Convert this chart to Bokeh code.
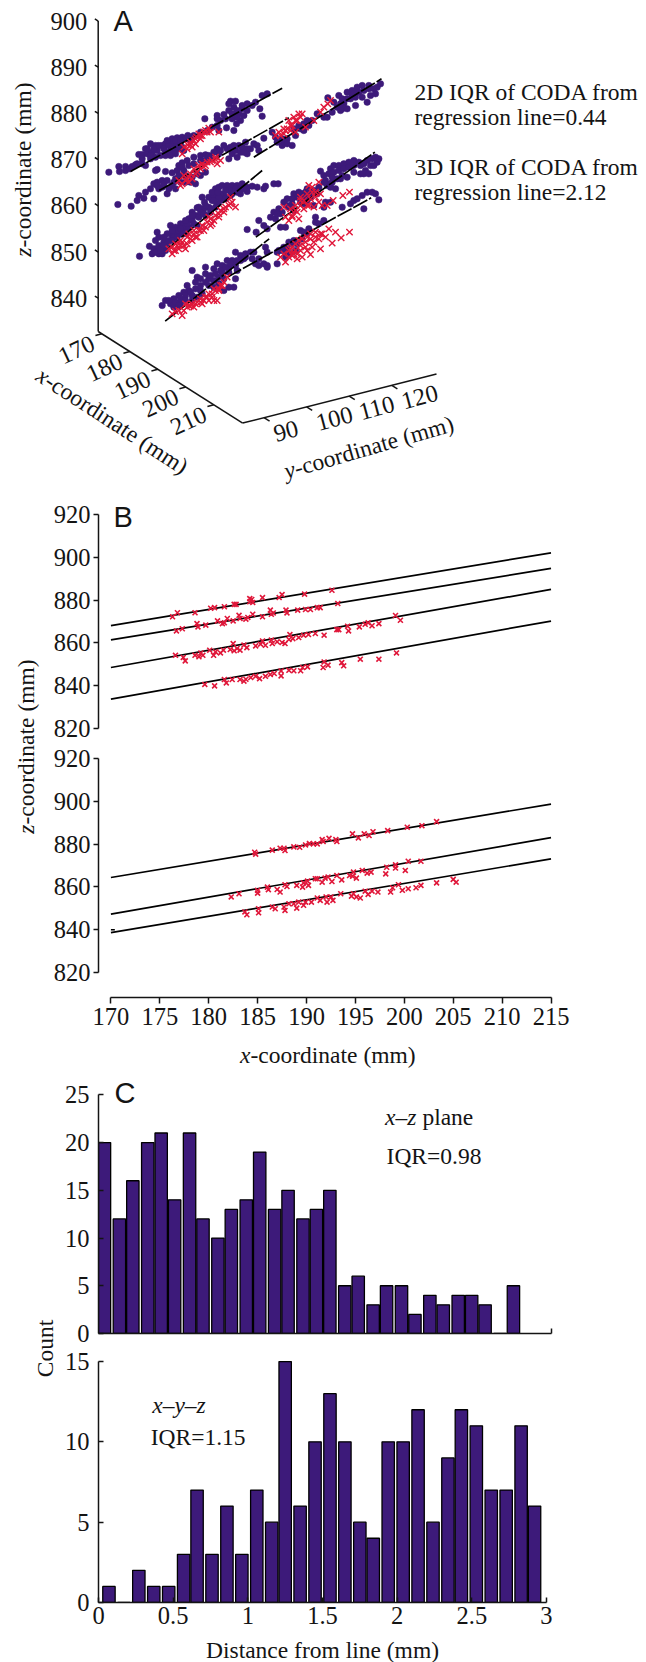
from bokeh.plotting import figure
from bokeh.layouts import column, row
from bokeh.models import Range1d
from bokeh.core.properties import value
from bokeh.embed import file_html
from bokeh.resources import INLINE

# Panel A: readings on the projected view plane of the 3-D box (1 unit = 1/3 of a pixel)
blue_1 = [(325,685),(355,702),(357,687),(375,702),(375,690),(395,702),(405,707),(388,695),(415,738),(425,738),(435,755),(450,770),(465,765),(440,740),(455,745),(470,750),(485,765),(495,770),(515,785),(530,788),(545,790),(515,770),(530,770),(540,775),(480,735),(495,745),(510,750),(465,730),(450,725),(435,705),(425,710),(410,710),(555,785),(562,795),(525,755),(545,760),(470,693),(613,845),(650,855),(650,845),(670,858),(685,870),(700,880),(690,898),(705,898),(685,890),(715,860),(740,890),(740,870),(720,840),(730,855),(778,875),(785,853),(700,810),(678,818),(785,915),(800,920),(765,895),(755,885),(708,830),(695,845),(650,825),(635,820),(620,810),(655,810),(600,805),(580,795),(570,780),(550,750),(440,755),(460,755),(475,765),(490,755),(505,765),(525,780),(500,780),(540,780),(450,735),(425,725),(495,735),(510,735),(525,740),(535,755),(660,840),(675,845),(695,860),(710,870),(725,875),(710,850),(725,885)]
blue_2 = [(352,588),(392,583),(415,615),(410,600),(435,625),(430,607),(460,605),(450,635),(470,655),(460,650),(485,660),(495,687),(515,683),(500,660),(475,635),(500,620),(485,640),(515,645),(525,635),(535,705),(545,713),(530,690),(560,720),(580,730),(600,735),(615,737),(625,735),(540,655),(555,675),(570,655),(585,650),(600,675),(615,685),(630,730),(650,755),(655,740),(670,765),(680,755),(695,740),(710,730),(685,725),(705,750),(725,760),(740,740),(735,775),(760,770),(770,765),(750,755),(790,787),(775,750),(720,745),(590,680),(525,665),(465,690),(470,645),(490,650),(505,635),(520,655),(535,675),(550,690),(565,705),(580,710),(600,720),(615,720),(640,745),(660,750),(690,760),(715,765),(740,755),(700,765),(730,745),(545,700),(555,655),(575,670)]
blue_3 = [(815,805),(845,785),(830,775),(845,765),(875,765),(860,785),(885,795),(880,815),(895,825),(910,830),(920,840),(935,840),(925,825),(910,810),(950,860),(970,850),(982,908),(980,850),(995,865),(1010,880),(1025,875),(1040,875),(1020,870),(1015,915),(1040,925),(1055,930),(1070,940),(1085,945),(1105,945),(1130,940),(1140,950),(1065,910),(1050,905),(1030,890),(1065,885),(1085,910),(1100,895),(1110,915),(1125,920),(1075,925),(1090,930),(1000,895),(1055,915),(1070,925),(1040,905),(1020,890),(1105,935),(1120,935),(1025,905),(1060,920),(910,825),(900,815),(850,775),(825,790),(860,770)]
blue_4 = [(417,433),(447,463),(455,440),(470,505),(465,480),(460,455),(475,460),(475,440),(490,475),(500,470),(490,455),(510,525),(525,520),(540,530),(550,530),(515,495),(530,505),(550,515),(565,545),(575,540),(590,578),(605,610),(612,595),(625,610),(635,600),(610,575),(625,580),(640,615),(645,635),(655,640),(665,645),(680,645),(695,645),(710,645),(725,650),(740,640),(755,643),(770,640),(790,635),(795,643),(740,513),(630,565),(650,590),(670,615),(690,630),(710,625),(660,620),(720,620),(585,555),(600,565),(540,500),(555,505),(500,500),(475,490),(485,440),(495,450),(575,565),(740,627),(615,555),(590,525),(820,650),(833,650),(475,465),(490,465),(505,480),(520,490),(535,510),(550,500),(565,520),(580,530),(595,550),(610,560),(630,575),(645,580),(660,600),(675,605),(690,615),(705,635),(720,635),(465,445),(480,450),(515,510),(540,515),(560,530),(575,555),(595,580),(615,585),(640,600),(655,610),(675,630),(695,620),(730,635),(490,490),(515,480),(530,490),(555,540),(635,625),(652,625)]
blue_5 = [(960,688),(970,675),(975,660),(990,695),(1000,705),(1015,705),(1030,710),(1045,715),(1060,720),(1080,705),(1100,720),(1115,725),(1130,715),(1135,725),(1110,705),(1095,690),(1080,680),(1060,685),(1040,670),(1020,665),(995,655),(980,645),(990,640),(1005,635),(920,635),(880,620),(860,605),(850,595),(865,580),(875,590),(890,610),(905,620),(910,590),(915,625),(930,610),(835,575),(820,565),(810,550),(825,545),(840,560),(940,585),(950,620),(1090,680),(1105,680),(775,540),(790,525),(800,515),(767,505),(840,520),(855,520),(945,550),(945,535),(985,680),(1000,685),(1015,690),(1030,695),(1045,700),(1010,665),(1025,675),(995,670),(1060,705),(1075,715),(1090,710),(1120,705),(1125,730),(860,585),(875,605),(895,625),(910,610),(925,620),(940,630),(955,640),(845,565),(830,560),(880,570),(900,595),(920,600),(970,655),(990,650)]
blue_6 = [(485,285),(495,300),(510,290),(520,305),(535,315),(550,325),(565,330),(575,390),(585,355),(590,370),(600,365),(615,400),(615,380),(625,365),(640,395),(650,410),(665,405),(680,420),(695,420),(705,445),(720,435),(735,440),(750,445),(625,345),(640,360),(655,370),(665,385),(685,400),(705,365),(700,340),(670,330),(685,340),(575,315),(540,290),(520,280),(560,345),(600,330),(710,420),(730,425),(710,390),(755,425),(765,410),(775,405),(800,400),(795,460),(800,445),(830,410),(835,450),(505,300),(525,295),(540,305),(555,315),(570,325),(585,335),(600,345),(615,355),(630,375),(645,380),(660,390),(675,400),(690,410),(705,405),(720,420),(735,430),(590,310),(605,320),(555,300),(575,300),(535,285),(640,340),(655,350),(670,365),(685,385)]
blue_7 = [(760,445),(775,425),(790,410),(800,405),(850,460),(865,475),(880,480),(900,510),(910,505),(885,450),(860,440),(855,430),(925,515),(975,595),(990,595),(1025,580),(1050,590),(1060,600),(1070,605),(1085,615),(1100,625),(1115,625),(1125,620),(1135,602),(1090,575),(970,580),(970,540),(955,530),(860,455),(875,470),(890,470),(905,485),(920,500),(870,440),(845,450),(830,445)]

red_1 = [(550,760),(562,767),(570,775),(580,780),(588,790),(595,800),(605,795),(615,810),(625,817),(630,805),(655,805),(600,785),(575,760),(545,740),(585,770),(610,805),(570,767),(585,785),(600,795),(620,805),(560,755)]
red_2 = [(535,660),(545,650),(560,665),(550,675),(570,680),(580,695),(595,705),(605,710),(620,715),(635,720),(650,710),(660,720),(590,685),(575,665),(645,730),(610,700),(565,655),(540,645),(555,660),(565,670),(585,680),(600,695),(615,705),(630,715),(645,723)]
red_3 = [(825,795),(835,805),(850,800),(860,815),(865,840),(875,825),(880,850),(890,840),(895,860),(905,860),(885,805),(915,820),(960,865),(970,880),(982,890),(990,900),(870,810),(850,815),(940,840),(855,810),(870,825),(885,840),(900,850),(840,795)]
red_4 = [(505,455),(515,440),(525,470),(540,480),(550,465),(560,490),(575,480),(580,500),(595,510),(605,525),(620,535),(630,545),(645,555),(660,570),(675,580),(690,590),(705,580),(690,610),(555,455),(535,455),(590,490),(610,510),(635,530),(655,550),(670,565),(520,450),(515,460),(530,465),(545,475),(560,470),(570,485),(585,490),(600,510),(615,520),(630,525),(640,540),(655,560),(670,575),(685,585),(695,595),(565,500),(540,465),(525,450),(580,510),(625,550)]
red_5 = [(850,580),(855,550),(865,540),(875,555),(885,570),(895,545),(900,585),(925,645),(955,655),(935,625),(900,610),(910,600),(930,605),(945,610),(955,595),(940,580),(965,585),(980,585),(998,600),(1027,615),(1047,625),(890,565),(870,575),(920,585),(960,620),(885,585),(900,600),(920,620),(935,640),(945,625),(910,575),(925,585),(875,550)]
red_6 = [(515,260),(525,267),(545,255),(550,270),(565,285),(575,290),(590,295),(605,290),(615,310),(625,320),(640,300),(650,300),(660,345),(670,355),(635,320),(600,305),(580,280),(625,300),(680,370),(640,335),(655,330),(535,270),(560,280),(585,290),(600,295),(610,300),(620,310),(635,310),(645,330),(655,335),(665,345),(555,290),(570,283)]
red_7 = [(850,440),(865,450),(875,460),(885,470),(895,480),(905,485),(920,490),(930,500),(945,505),(965,500),(985,515),(1005,505),(1022,488),(1047,505),(995,472),(960,455),(930,438),(890,425),(880,440),(900,450),(915,460),(940,475),(955,485),(975,490),(855,415),(840,430),(905,430),(870,455),(885,450),(900,465),(915,475),(930,485),(945,490),(960,500),(875,435),(890,440),(865,430),(920,450),(935,460)]

fit_lines_a = [((390,687),(845,937)),((476,630),(865,848)),((760,730),(1143,965)),((501,455),(785,690)),((766,490),(1123,745)),((494,238),(806,485)),((680,370),(1112,608))]

x_ticks_a = [170,180,190,200,210]
y_ticks_a = [90,100,110,120]
z_ticks_a = [840,850,860,870,880,890,900]

# Panel B: (x mm, z mm) readings
b1_row1 = [(176.3,872.2),(176.8,874.1),(178.6,874.1),(180.2,876.2),(180.6,876.5),(181.6,876.9),(182.6,878),(182.8,878),(184.2,879.2),(184.4,880.3),(184.2,880.7),(184.5,878.9),(185.5,881.2),(187.2,881.2),(187.5,882.6),(189.8,882.8),(192.6,884.6)]
b1_row2 = [(176.7,865.6),(177.3,866.6),(178.8,869),(178.9,867.5),(179.7,868.3),(180.9,870.3),(181.4,869),(181.6,869.4),(181.9,871.4),(182.5,870.3),(183.1,872.9),(183.2,871.4),(183.8,871.1),(184,871.9),(184.5,873.4),(185.5,872.2),(186.3,875.3),(186.4,873.4),(186.6,874),(187.9,875.3),(188,874),(189.1,875.3),(189.9,875.6),(190.4,875.6),(191.1,876.5),(191.4,876.5),(193.2,878.4)]
b1_row3 = [(176.6,854.2),(177.4,853.2),(177.6,851.6),(178.6,854.2),(179,853.5),(179.2,855.3),(179.4,854.2),(180.1,856.6),(180.5,854.2),(180.7,855.8),(181.2,855.3),(181.5,856.6),(182.2,856.9),(182.5,859.7),(182.6,856.3),(182.9,857.4),(183.2,856.6),(183.6,859),(183.9,857.8),(184.8,858.6),(185.3,859.4),(185.5,860.9),(185.8,858.9),(186.4,861.3),(186.5,859.7),(187,860.5),(187.5,860.2),(187.8,859.7),(188.2,861.6),(188.3,863.9),(188.6,862),(189.2,862.5),(189.7,863.6),(190.2,863.9),(190.9,864.4),(191.8,863.6),(193.1,866.2),(193.3,866.2),(194.2,867.8),(194.3,865.6),(195.4,867.5),(196,868.7),(196.3,869.4),(196.7,868),(197.4,869),(199.1,872.8),(199.6,870.6)]
b1_row4 = [(179.6,840.6),(180.6,839.9),(181.6,842.9),(181.8,841.3),(182.4,842.9),(183.2,842.9),(183.6,842.1),(183.8,843),(184.3,843.8),(184.8,844.4),(185.2,843.3),(185.8,844.4),(186.3,845.2),(186.7,845.7),(187.4,846.9),(187.4,844.6),(188.2,847.2),(188.7,847),(189.4,847),(189.6,848.5),(190.1,848.8),(191.8,851.1),(191.7,848.5),(192.2,849.6),(193.6,850.8),(193.8,849.3),(195.5,852.4),(197.4,852.4),(199.2,855.3)]
b1_z_at_170 = [868.1,861.4,848.5,833.7]
b1_z_at_215 = [902.1,894.8,885.0,870.2]

b2_row1 = [(184.7,876.2),(184.8,875.3),(186.5,877.2),(187.3,878.1),(187.7,878.1),(187.8,877),(188.7,878.7),(189.3,878.5),(189.9,879.6),(190.3,880.3),(190.7,880.1),(191.1,880.1),(191.6,882.1),(191.7,881.2),(192.3,882.7),(193,882.1),(193.1,881.2),(194.7,884.8),(195.3,882.9),(195.9,884.8),(196.4,884),(196.8,885.8),(198.3,886.3),(200.3,887.9),(201.8,888.6),(203.3,890.5)]
b2_row2 = [(182.3,855.3),(183.1,856.8),(185,858.4),(185,857.1),(186,859.9),(186.1,858.7),(187,858.8),(187.3,857.6),(187.8,861),(188,860.2),(189,860.7),(189.6,859.9),(189.7,861.9),(190.1,862.7),(190.2,860.7),(190.9,863.8),(191.1,863.8),(191.6,862.2),(191.9,864.1),(192.2,864.6),(192.6,862.5),(193.1,865.3),(193.6,863.3),(194.4,865.3),(194.7,865),(194.8,866.9),(195.1,864.1),(195.7,867.7),(196.2,866.4),(196.6,866.9),(198.1,866.1),(198.2,869.2),(199.1,870.3),(199.1,868.8),(200.1,867.7),(200.4,872),(201.7,872)]
b2_row3 = [(183.7,848.3),(183.9,847),(185.1,849.8),(185.1,847.9),(186.5,850.6),(186.8,849.8),(187.7,850.6),(187.8,849),(188.2,852.1),(188.7,852.1),(189,850.1),(189.2,852.9),(189.7,851.4),(189.9,852.9),(190.5,852.9),(191.1,854.8),(191.4,853.7),(192,855.3),(192.1,852.9),(192.5,855.3),(192.7,853.7),(193.5,856.8),(194.6,855.7),(194.8,856.8),(195.1,855.3),(195.5,854.8),(196,858),(196.3,856.5),(196.7,858),(197.3,857.6),(198.6,857.6),(198.8,859.6),(199.4,861),(199.8,858.4),(200.4,859.1),(201.2,859.6),(201.7,860.7),(203.3,861.9),(205,863.5),(205.3,862.2)]
b2_z_at_170 = [864.4,847.3,838.6]
b2_z_at_215 = [898.7,883.0,873.1]
z_ticks_b = [820,840,860,880,900,920]
x_ticks_b = [170,175,180,185,190,195,200,205,210,215]

# Panel C
c1_bins = [0.04,0.14,0.23,0.33,0.42,0.51,0.61,0.70,0.80,0.89,0.99,1.08,1.18,1.27,1.37,1.46,1.55,1.65,1.74,1.84,1.93,2.03,2.12,2.22,2.31,2.41,2.50,2.59,2.69,2.78]
c1_counts = [20,12,16,20,21,14,21,12,10,13,14,19,13,15,12,13,15,5,6,3,5,5,2,4,3,4,4,3,0,5]
c2_bins = [0.07,0.17,0.27,0.37,0.47,0.57,0.66,0.76,0.86,0.96,1.06,1.16,1.25,1.35,1.45,1.55,1.65,1.75,1.84,1.94,2.04,2.14,2.24,2.34,2.43,2.53,2.63,2.73,2.83,2.92]
c2_counts = [1,0,2,1,1,3,7,3,6,3,7,5,15,6,10,13,10,5,4,10,10,12,5,9,12,11,7,7,11,6]

INK = "#141414"
BLUE = "#3d1a7a"
RED = "#e0173a"
SERIF = "Liberation Serif"
SANS = "Liberation Sans"
FS = 23.5
TICK_FS = 24.5


def frame_fig(w, h, xr, yr, left=0, right=0, top=0, bottom=0, **kw):
    p = figure(width=w, height=h, x_range=Range1d(*xr), y_range=Range1d(*yr),
               output_backend="svg", toolbar_location=None,
               min_border_left=left, min_border_right=right, min_border_top=top, min_border_bottom=bottom,
               outline_line_color=None, background_fill_color=None, border_fill_color=None, **kw)
    p.grid.visible = False
    return p


def txt(p, x, y, s, size=FS, font=SERIF, italic=False, align="left", angle=0):
    p.text(x=[x], y=[y], text=[s], text_font=value(font), text_font_size=value(f"{size}px"),
           text_font_style="italic" if italic else "normal", text_align=align,
           text_baseline="middle", angle=angle, angle_units="deg", text_color=INK)


def style_axis(ax, ticks, tick_out=5, tick_in=0, standoff=3):
    ax.ticker = ticks
    ax.axis_line_color = INK
    ax.axis_line_width = 1.5
    ax.major_tick_line_color = INK
    ax.major_tick_line_width = 1.5
    ax.major_tick_out = tick_out
    ax.major_tick_in = tick_in
    ax.minor_tick_line_color = None
    ax.major_label_standoff = standoff
    ax.major_label_text_font = SERIF
    ax.major_label_text_font_size = f"{TICK_FS}px"
    ax.major_label_text_color = INK


# ---------- Panel A ----------
X0, Y0, Z0, X1, Y1 = 168.7, 85, 832.8, 220.3, 130.5


def view(x, y, z):
    sx = 97.7 + 2.8 * (x - X0) + 4.26 * (y - Y0)
    sy = 331 + 1.775 * (x - X0) - 1.08 * (y - Y0) - 4.62 * (z - Z0)
    return 3 * sx, 3 * (400 - sy)


def px(sx, sy):
    return 3 * sx, 3 * (400 - sy)


a = frame_fig(646, 490, (0, 1938), (-270, 1200), x_axis_type=None, y_axis_type=None)
for cloud in [blue_1, blue_2, blue_3, blue_4, blue_5, blue_6, blue_7]:
    a.scatter([q[0] for q in cloud], [q[1] for q in cloud], marker="circle", size=6.5,
              fill_color=BLUE, line_color=BLUE, line_width=0.5)
for (s, e) in fit_lines_a:
    a.line([s[0], e[0]], [s[1], e[1]], line_color="black", line_width=1.7, line_dash="16 2")
for cloud in [red_1, red_2, red_3, red_4, red_5, red_6, red_7]:
    a.scatter([q[0] for q in cloud], [q[1] for q in cloud], marker="x", size=9,
              line_color=RED, line_width=1.4)

for s, e in [(view(X0, Y0, Z0), view(X0, Y0, 900)), (view(X0, Y0, Z0), view(X1, Y0, Z0)), (view(X1, Y0, Z0), view(X1, Y1, Z0))]:
    a.line([s[0], e[0]], [s[1], e[1]], line_color=INK, line_width=1.5)
for z in z_ticks_a:
    s, e = view(X0, Y0, z), view(X0 - 1.2, Y0, z)
    a.line([s[0], e[0]], [s[1], e[1]], line_color=INK, line_width=1.5)
    u, v = view(X0, Y0, z)
    txt(a, u - 3 * 11, v, str(z), size=TICK_FS, align="right")
for x in x_ticks_a:
    s, e = view(x, Y0, Z0), view(x, Y0 - 1.5, Z0)
    a.line([s[0], e[0]], [s[1], e[1]], line_color=INK, line_width=1.5)
    u, v = view(x, Y0, Z0)
    txt(a, u - 3 * 25.5, v - 3 * 15.5, str(x), size=TICK_FS, align="center", angle=25)
for y in y_ticks_a:
    s, e = view(X1, y, Z0), view(X1 + 2, y, Z0)
    a.line([s[0], e[0]], [s[1], e[1]], line_color=INK, line_width=1.5)
    u, v = view(X1, y, Z0)
    txt(a, u + 3 * 10, v - 3 * 16, str(y), size=TICK_FS, angle=15)

u, v = px(22, 247)
txt(a, u, v, "z", italic=True, align="right", angle=90)
txt(a, u, v, "-coordinate (mm)", angle=90)
u, v = px(47, 378)
txt(a, u, v, "x", italic=True, align="right", angle=-33)
txt(a, u, v, "-coordinate (mm)", angle=-33)
u, v = px(294, 468)
txt(a, u, v, "y", italic=True, align="right", angle=16)
txt(a, u, v, "-coordinate (mm)", angle=16)
for sy, s in [(91.5, "2D IQR of CODA from"), (116.5, "regression line=0.44"), (166.5, "3D IQR of CODA from"), (191.5, "regression line=2.12")]:
    u, v = px(414, sy)
    txt(a, u, v, s)
u, v = px(113, 20.5)
txt(a, u, v, "A", size=29, font=SANS)

# ---------- Panel B ----------
XR_B = (168.73, 215.97)
b_label = frame_fig(42, 580, (0, 42), (1070, 490), x_axis_type=None, y_axis_type=None)
txt(b_label, 25, 824, "z", italic=True, align="right", angle=90)
txt(b_label, 25, 824, "-coordinate (mm)", angle=90)

b1 = frame_fig(604, 252, XR_B, (820, 927.48), left=56, right=86, top=8, bottom=14)
b1.xaxis.visible = False
style_axis(b1.yaxis[0], z_ticks_b)
b1.yaxis.bounds = (820, 920)
for z0, z1 in zip(b1_z_at_170, b1_z_at_215):
    b1.line([170, 215], [z0, z1], line_color="black", line_width=1.7)
for cloud in [b1_row1, b1_row2, b1_row3, b1_row4]:
    b1.scatter([q[0] for q in cloud], [q[1] for q in cloud], marker="x", size=7, line_color=RED, line_width=1.6)
txt(b1, 170.27, 919, "B", size=29, font=SANS)

b2 = frame_fig(604, 295, XR_B, (808.32, 923.74), left=56, right=86, top=8, bottom=40)
style_axis(b2.yaxis[0], z_ticks_b)
b2.yaxis.bounds = (820, 920)
style_axis(b2.xaxis[0], x_ticks_b, tick_out=6, standoff=4)
b2.xaxis.bounds = (170, 215)
for z0, z1 in zip(b2_z_at_170, b2_z_at_215):
    b2.line([170, 215], [z0, z1], line_color="black", line_width=1.7)
b2.line([170, 170.4], [840.0, 840.0], line_color="black", line_width=1.5)
for cloud in [b2_row1, b2_row2, b2_row3]:
    b2.scatter([q[0] for q in cloud], [q[1] for q in cloud], marker="x", size=7, line_color=RED, line_width=1.6)

b_strip = frame_fig(604, 33, (98, 560), (1070, 1037), left=56, right=86, x_axis_type=None, y_axis_type=None)
txt(b_strip, 250, 1054, "x", italic=True, align="right")
txt(b_strip, 250, 1054, "-coordinate (mm)")

# ---------- Panel C ----------
c_label = frame_fig(60, 592, (0, 60), (1662, 1070), x_axis_type=None, y_axis_type=None)
txt(c_label, 44.5, 1348, "Count", align="center", angle=90)

c1 = frame_fig(586, 276, (0, 3.035), (0, 26.71), left=38, right=95, top=8, bottom=13)
style_axis(c1.yaxis[0], [0, 5, 10, 15, 20, 25], tick_out=0, tick_in=5, standoff=9)
c1.yaxis.bounds = (0, 25)
style_axis(c1.xaxis[0], [3.035], tick_out=0, tick_in=5, standoff=0)
c1.xaxis.major_label_overrides = {3.035: ""}
c1.xaxis.major_label_text_font_size = "1px"
c1.vbar(x=c1_bins, top=c1_counts, width=0.083, fill_color=BLUE, line_color="black", line_width=1.3)
txt(c1, 0.107, 25.2, "C", size=29, font=SANS)
txt(c1, 2.13, 22.7, "x–z", italic=True, align="right")
txt(c1, 2.17, 22.7, "plane")
txt(c1, 1.93, 18.6, "IQR=0.98")

c2 = frame_fig(586, 288, (0, 3.0335), (0, 15.5), left=38, right=95, top=7, bottom=32)
style_axis(c2.yaxis[0], [0, 5, 10, 15], tick_out=0, tick_in=5, standoff=9)
c2.yaxis.bounds = (0, 15)
style_axis(c2.xaxis[0], [0, 0.5, 1, 1.5, 2, 2.5, 3], tick_out=0, tick_in=5, standoff=4)
c2.xaxis.bounds = (0, 3)
c2.vbar(x=c2_bins, top=c2_counts, width=0.083, fill_color=BLUE, line_color="black", line_width=1.3)
txt(c2, 0.36, 12.28, "x–y–z", italic=True)
txt(c2, 0.35, 10.3, "IQR=1.15")

c_strip = frame_fig(586, 28, (98, 551), (1662, 1634), left=38, right=95, x_axis_type=None, y_axis_type=None)
txt(c_strip, 322, 1649, "Distance from line (mm)", align="center")

root = column(a, row(b_label, column(b1, b2, b_strip)), row(c_label, column(c1, c2, c_strip)))
open("out.html", "w").write(file_html(root, INLINE))
